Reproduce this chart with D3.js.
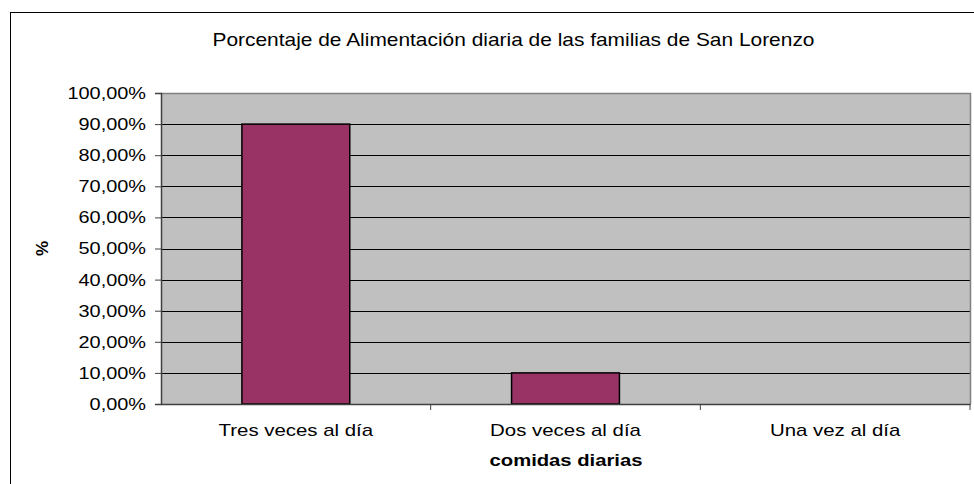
<!DOCTYPE html>
<html><head><meta charset="utf-8">
<script src="https://cdn.jsdelivr.net/npm/d3@7"></script>
<style>body{margin:0;background:#fff}svg{display:block;font-family:"Liberation Sans",Arial,sans-serif}</style>
</head><body>
<script>
const categories = ["Tres veces al día", "Dos veces al día", "Una vez al día"];
const values = [0.90, 0.10, 0.0];
const yTicks = [0,0.1,0.2,0.3,0.4,0.5,0.6,0.7,0.8,0.9,1.0];
const title = "Porcentaje de Alimentación diaria de las familias de San Lorenzo";
const xTitle = "comidas diarias";
const yTitle = "%";

const W = 974, H = 484;
const FF = "Liberation Sans, Arial, sans-serif";
const svg = d3.select("body").append("svg").attr("width", W).attr("height", H);
svg.append("rect").attr("x",10.5).attr("y",12.5).attr("width",W+20).attr("height",H+20)
  .attr("fill","#fff").attr("stroke","#000").attr("stroke-width",1);

const L = 161, R = 970, T = 93, B = 404;
const x = d3.scaleBand().domain(categories).range([L, R]).paddingInner(0.6).paddingOuter(0.3);
const xb = d3.scaleBand().domain(categories).range([L, R]);
const y = d3.scaleLinear().domain([0,1]).range([B, T]);

function stretch(sel, f){
  sel.each(function(){ const n=this; const w=n.getComputedTextLength();
    n.setAttribute("textLength", w*f); n.setAttribute("lengthAdjust","spacingAndGlyphs"); });
}

svg.append("rect").attr("x",L).attr("y",T).attr("width",R-L).attr("height",B-T).attr("fill","#c0c0c0");
svg.append("g").selectAll("line").data(yTicks.slice(1,-1)).join("line")
  .attr("x1",L).attr("x2",R).attr("y1",d=>Math.round(y(d))+0.5).attr("y2",d=>Math.round(y(d))+0.5)
  .attr("stroke","#000").attr("stroke-width",1);
svg.append("path").attr("d",`M${L},${T+0.5}H${R+0.5}V${B}`).attr("fill","none").attr("stroke","#808080").attr("stroke-width",1.5);

svg.append("g").selectAll("rect").data(values).join("rect")
  .attr("x",(d,i)=>x(categories[i])).attr("width",x.bandwidth())
  .attr("y",d=>y(d)).attr("height",d=>B-y(d))
  .attr("fill","#993366").attr("stroke","#000").attr("stroke-width",1.5)
  .attr("display",d=>d>0?null:"none");

const fmt = d => d3.format(".2f")(d*100).replace(".",",")+"%";
const ya = svg.append("g").attr("transform",`translate(${L},0)`)
  .call(d3.axisLeft(y).tickValues(yTicks).tickFormat(fmt).tickSize(6).tickPadding(9));
ya.select(".domain").attr("stroke","#404040").attr("stroke-width",1.5);
ya.selectAll(".tick line").attr("stroke","#404040");
ya.selectAll("text").attr("font-size",17).attr("fill","#000").attr("font-family",FF).call(stretch,1.17);

const xa = svg.append("g").attr("transform",`translate(0,${B})`)
  .call(d3.axisBottom(xb).tickSize(0).tickPadding(20));
xa.select(".domain").attr("stroke","#404040").attr("stroke-width",1.5);
xa.selectAll("text").attr("font-size",17).attr("fill","#000").attr("font-family",FF).call(stretch,1.2);
svg.append("g").selectAll("line").data(categories.slice(1).map(c=>xb(c)).concat([R])).join("line")
  .attr("x1",d=>d).attr("x2",d=>d).attr("y1",B).attr("y2",B+6).attr("stroke","#404040");

svg.append("text").attr("x",513.5).attr("y",46).attr("text-anchor","middle").attr("font-size",18.5).text(title).call(stretch,1.13);
svg.append("text").attr("x",566).attr("y",466).attr("text-anchor","middle").attr("font-size",17).attr("font-weight","bold").text(xTitle).call(stretch,1.19);
svg.append("text").attr("transform",`translate(48,${(T+B)/2}) rotate(-90)`).attr("text-anchor","middle").attr("font-size",17).attr("font-weight","bold").text(yTitle);
</script>
</body></html>
